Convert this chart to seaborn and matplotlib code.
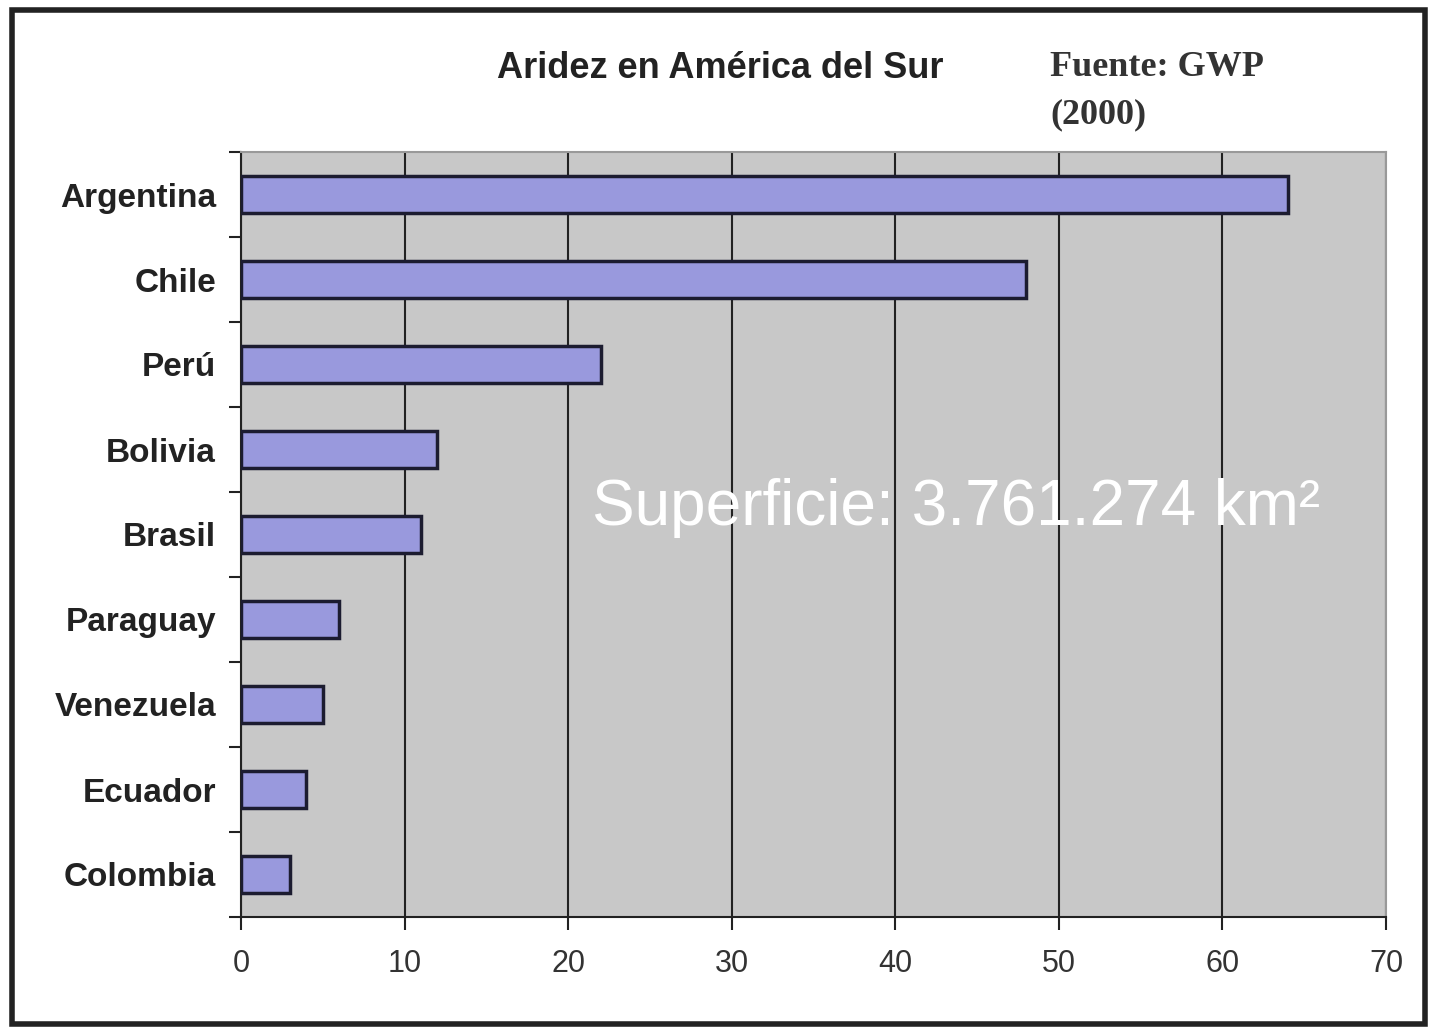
import pandas as pd
import seaborn as sns
import matplotlib.pyplot as plt
from matplotlib.patches import Rectangle

paises = ["Argentina", "Chile", "Perú", "Bolivia", "Brasil",
          "Paraguay", "Venezuela", "Ecuador", "Colombia"]
aridez = [64, 48, 22, 12, 11, 6, 5, 4, 3]
ticks_x = [0, 10, 20, 30, 40, 50, 60, 70]

df = pd.DataFrame({"pais": paises, "aridez": aridez})

sns.set_style("white")
plt.rcParams['font.family'] = ['Liberation Sans', 'DejaVu Sans']

W, H = 1434, 1030
fig = plt.figure(figsize=(W / 100, H / 100), dpi=100)
ax = fig.add_axes([241 / W, 1 - 917 / H, (1386 - 241) / W, (917 - 152) / H])

sns.barplot(data=df, x="aridez", y="pais", ax=ax, color="#9999dd",
            saturation=1, width=0.44, edgecolor="#1c1c30", linewidth=2.5,
            zorder=3)

ax.set_facecolor("#c8c8c8")
ax.set_axisbelow(True)
ax.xaxis.grid(True, color="#222222", lw=1.5)
ax.set_xlim(0, 70)
ax.set_ylim(8.5, -0.5)
ax.set_xticks(ticks_x)
ax.set_xlabel("")
ax.set_ylabel("")

for s in ["left", "bottom"]:
    ax.spines[s].set_color("#222222")
    ax.spines[s].set_linewidth(1.5)
for s in ["top", "right"]:
    ax.spines[s].set_color("#999999")
    ax.spines[s].set_linewidth(1.5)

# ticks de categoría en los límites, estilo Excel
ax.set_yticks([i - 0.5 for i in range(len(paises) + 1)], minor=True)
ax.tick_params(axis="y", which="both", left=True)
ax.tick_params(axis="y", which="major", length=0, pad=18)
ax.tick_params(axis="y", which="minor", length=9, width=1.5,
               color="#222222", direction="out")
ax.tick_params(axis="x", bottom=True, length=9, width=1.5, color="#222222",
               direction="out", labelsize=22, labelcolor="#333333", pad=14)
for lab in ax.get_yticklabels():
    lab.set_fontsize(24)
    lab.set_fontweight("bold")
    lab.set_color("#222222")

fig.text(720 / W, 1 - 68 / H, "Aridez en América del Sur", ha="center",
         va="center", fontsize=26, fontweight="bold", color="#222222")
fig.text(1050 / W, 1 - 68 / H, "Fuente: GWP", ha="left", va="center",
         fontsize=26, fontweight="bold", color="#333333",
         family=["Liberation Serif", "DejaVu Serif"])
fig.text(1050 / W, 1 - 115 / H, "(2000)", ha="left", va="center",
         fontsize=26, fontweight="bold", color="#333333",
         family=["Liberation Serif", "DejaVu Serif"])
fig.text(592 / W, 1 - 525 / H, "Superficie: 3.761.274 km²", ha="left",
         va="baseline", fontsize=46, color="white")

fig.patches.append(Rectangle((12 / W, 6 / H), (1425 - 12) / W, (1020 - 6) / H,
                             transform=fig.transFigure, fill=False,
                             edgecolor="#222222", lw=4))

fig.savefig("out.png", dpi=100)
